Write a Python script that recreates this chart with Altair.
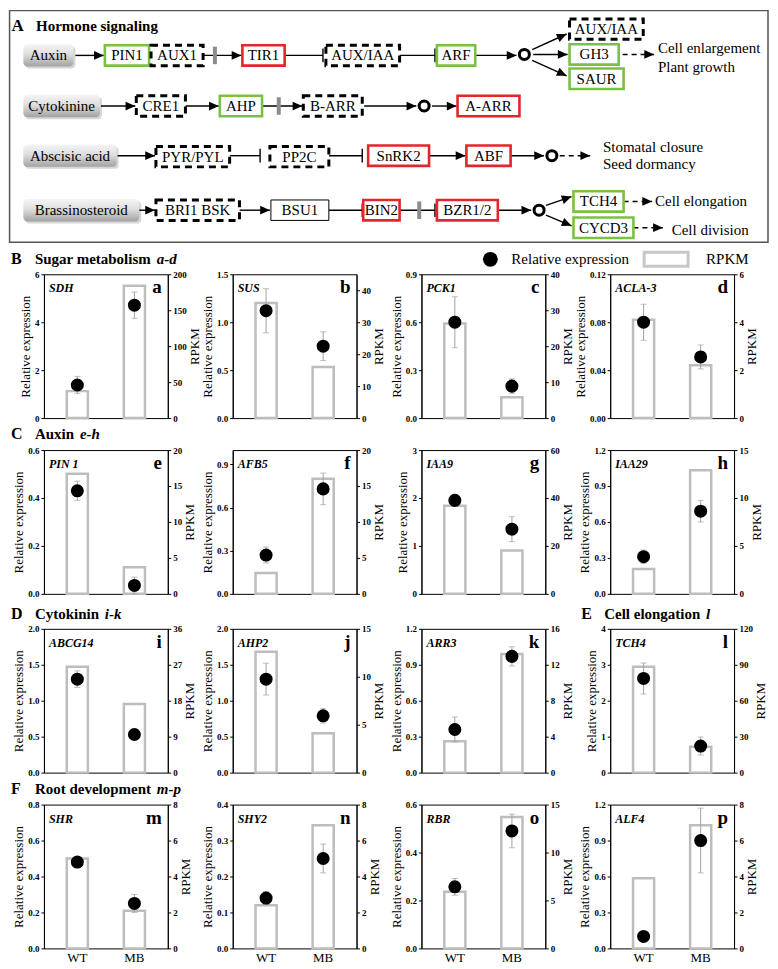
import math
import altair as alt
import pandas as pd

SERIF = "Liberation Serif"
GREEN = "#7ac143"
RED = "#e4262c"
ARROW = "M0,0L-1,-0.45L-1,0.45Z"

# ================= Panel A: signalling diagram (content) =================
title_a = ["A", "Hormone signaling"]
hormones = ["Auxin", "Cytokinine", "Abscisic acid", "Brassinosteroid"]
node_labels = ["PIN1", "AUX1", "TIR1", "AUX/IAA", "ARF", "AUX/IAA", "GH3", "SAUR",
               "CRE1", "AHP", "B-ARR", "A-ARR",
               "PYR/PYL", "PP2C", "SnRK2", "ABF",
               "BRI1 BSK", "BSU1", "BIN2", "BZR1/2", "TCH4", "CYCD3"]
node_kinds = ["green", "dashed", "red", "dashed", "green", "dashed", "green", "green",
              "dashed", "green", "dashed", "red",
              "dashed", "dashed", "red", "red",
              "dashed", "plain", "red", "red", "green", "green"]
outcome_labels = ["Cell enlargement", "Plant growth", "Stomatal closure",
                  "Seed dormancy", "Cell elongation", "Cell division"]

# layout of the schematic (reference figure grid)
frame_layout = [(3, 775, 2, 240)]
hormone_layout = [(17, 68, 48), (17, 95, 100), (17, 112, 151), (17, 135, 207)]
node_layout = [
    (100, 145, 48), (147, 200, 48), (240, 283, 48), (325, 400, 48), (438, 477, 48),
    (573, 648, 21), (573, 623, 47), (573, 628, 72),
    (132, 182, 100), (217, 260, 100), (302, 362, 100), (459, 522, 100),
    (152, 227, 152), (268, 328, 152), (368, 430, 151), (468, 513, 151),
    (152, 237, 207), (269, 328, 207), (363, 400, 207), (438, 500, 207),
    (577, 628, 198), (577, 638, 225),
]
edge_layout = [
    (70, 48, 99, 48, "arrow"), (200, 48, 239, 48, "arrow"), (283, 48, 322, 48, "inhibit"),
    (400, 48, 436, 48, "inhibit"), (477, 48, 519, 48, "arrow"),
    (535, 42, 570, 26, "arrow"), (536, 47, 571, 47, "arrow"), (535, 53, 570, 69, "arrow"),
    (627, 47, 659, 47, "dash"),
    (96, 100, 131, 100, "arrow"), (182, 100, 216, 100, "arrow"), (260, 100, 301, 100, "arrow"),
    (364, 100, 417, 100, "arrow"), (433, 100, 458, 100, "arrow"),
    (113, 151, 151, 151, "arrow"), (227, 151, 258, 151, "inhibit"), (328, 151, 362, 151, "inhibit"),
    (430, 151, 467, 151, "arrow"), (513, 151, 547, 151, "arrow"), (563, 151, 594, 151, "dash"),
    (135, 207, 151, 207, "arrow"), (237, 207, 268, 207, "arrow"), (328, 207, 362, 207, "inhibit"),
    (400, 207, 436, 207, "inhibit"), (500, 207, 534, 207, "arrow"),
    (549, 202, 575, 193, "arrow"), (549, 212, 575, 223, "arrow"),
    (628, 198, 657, 198, "dash"), (638, 225, 668, 225, "dash"),
]
circle_layout = [(527, 47), (425, 100), (555, 151), (542, 207)]
break_layout = [(212, 48), (277, 100), (420, 207)]
outcome_layout = [(663, 40), (663, 60), (607, 142), (607, 160), (660, 198), (677, 227)]
title_layout = [(5, 18), (30, 18)]

# ================= Panels a-p (data) =================
groups = ["WT", "MB"]
genes = ["SDH", "SUS", "PCK1", "ACLA-3", "PIN 1", "AFB5", "IAA9", "IAA29",
         "ABCG14", "AHP2", "ARR3", "TCH4", "SHR", "SHY2", "RBR", "ALF4"]
letters = list("abcdefghijklmnop")
rel_wt = [1.38, 1.12, 0.60, 0.080, 0.43, 0.27, 1.95, 0.31, 1.30, 1.30, 0.36, 2.62, 0.48, 0.14, 0.257, 0.10]
rel_mb = [4.71, 0.75, 0.20, 0.051, 0.035, 0.73, 1.35, 0.69, 0.53, 0.79, 0.97, 0.74, 0.25, 0.25, 0.49, 0.90]
err_wt = [0.36, 0.23, 0.16, 0.015, 0.04, 0.055, 0.12, 0.055, 0.115, 0.22, 0.105, 0.43, 0.03, 0.018, 0.035, 0.0]
err_mb = [0.55, 0.15, 0.045, 0.010, 0.035, 0.11, 0.26, 0.09, 0.03, 0.10, 0.08, 0.25, 0.05, 0.04, 0.07, 0.27]
rpkm_wt = [37.5, 36.0, 26.3, 4.1, 16.7, 2.9, 36.8, 2.6, 26.5, 12.6, 3.5, 88.3, 5.0, 2.4, 5.9, 3.9]
rpkm_mb = [184, 16.0, 5.8, 2.2, 3.7, 16.0, 18.1, 12.9, 17.2, 4.1, 13.2, 21.5, 2.1, 6.85, 13.7, 6.85]
rel_max = [6, 1.5, 0.9, 0.12, 0.6, 1.0, 3, 1.2, 2.0, 2.0, 1.2, 4, 0.8, 0.4, 0.6, 1.2]
rel_ticks = [[0, 2, 4, 6], [0, 0.5, 1.0, 1.5], [0, 0.3, 0.6, 0.9], [0, 0.04, 0.08, 0.12],
             [0, 0.2, 0.4, 0.6], [0, 0.3, 0.6, 0.9], [0, 1, 2, 3], [0, 0.3, 0.6, 0.9, 1.2],
             [0, 0.5, 1.0, 1.5, 2.0], [0, 0.5, 1.0, 1.5, 2.0], [0, 0.3, 0.6, 0.9, 1.2], [0, 1, 2, 3, 4],
             [0, 0.2, 0.4, 0.6, 0.8], [0, 0.1, 0.2, 0.3, 0.4], [0, 0.2, 0.4, 0.6], [0, 0.3, 0.6, 0.9, 1.2]]
rel_fmt = ["d", ".1f", ".1f", ".2f", ".1f", ".1f", "d", ".1f",
           ".1f", ".1f", ".1f", "d", ".1f", ".1f", ".1f", ".1f"]
rpkm_max = [200, 45, 40, 6, 20, 20, 60, 15, 36, 15, 16, 120, 8, 8, 15, 8]
rpkm_ticks = [[0, 50, 100, 150, 200], [0, 10, 20, 30, 40], [0, 10, 20, 30, 40], [0, 2, 4, 6],
              [0, 5, 10, 15, 20], [0, 5, 10, 15, 20], [0, 20, 40, 60], [0, 5, 10, 15],
              [0, 9, 18, 27, 36], [0, 5, 10, 15], [0, 4, 8, 12, 16], [0, 30, 60, 90, 120],
              [0, 2, 4, 6, 8], [0, 2, 4, 6, 8], [0, 5, 10, 15], [0, 2, 4, 6, 8]]

header_letters = ["B", "C", "D", "E", "F"]
header_titles = ["Sugar metabolism", "Auxin", "Cytokinin", "Cell elongation", "Root development"]
header_ranges = ["a-d", "e-h", "i-k", "l", "m-p"]
legend_labels = ["Relative expression", "RPKM"]

# ================= build diagram =================
DW, DH = 725, 232
xs = alt.Scale(domain=[38, 775], nice=False, zero=False)
ys = alt.Scale(domain=[2, 240], nice=False, zero=False, reverse=True)


def dX(f):
    return alt.X(f"{f}:Q", scale=xs, axis=None)


def dY(f):
    return alt.Y(f"{f}:Q", scale=ys, axis=None)


fdf = pd.DataFrame(frame_layout, columns=["x1", "x2", "y1", "y2"])

hdf = pd.DataFrame({"label": hormones,
                    "x1": [b[0] for b in hormone_layout],
                    "x2": [b[1] for b in hormone_layout],
                    "yc": [b[2] for b in hormone_layout]})
hdf["y1"] = hdf["yc"] - 11.5
hdf["y2"] = hdf["yc"] + 11.5
hdf["xc"] = (hdf["x1"] + hdf["x2"]) / 2

ndf = pd.DataFrame({"label": node_labels, "kind": node_kinds,
                    "x1": [b[0] for b in node_layout],
                    "x2": [b[1] for b in node_layout],
                    "yc": [b[2] for b in node_layout]})
ndf["y1"] = ndf["yc"] - 10.5
ndf["y2"] = ndf["yc"] + 10.5
ndf["xc"] = (ndf["x1"] + ndf["x2"]) / 2

edf = pd.DataFrame(edge_layout, columns=["x1", "y1", "x2", "y2", "kind"])
edf["angle"] = [math.degrees(math.atan2(r.y2 - r.y1, r.x2 - r.x1)) % 360 for r in edf.itertuples()]
edf["ya"] = edf["y2"] - 7
edf["yb"] = edf["y2"] + 7

cdf = pd.DataFrame(circle_layout, columns=["x", "y"])
bdf = pd.DataFrame(break_layout, columns=["x", "y"])
bdf["ya"] = bdf["y"] - 9
bdf["yb"] = bdf["y"] + 9
odf = pd.DataFrame({"label": outcome_labels,
                    "x": [p[0] for p in outcome_layout],
                    "y": [p[1] for p in outcome_layout]})
tdf = pd.DataFrame({"label": title_a,
                    "x": [p[0] for p in title_layout],
                    "y": [p[1] for p in title_layout],
                    "size": [17, 15]})

grad = {"gradient": "linear", "x1": 0, "y1": 0, "x2": 0, "y2": 1,
        "stops": [{"offset": 0, "color": "#f5f5f5"},
                  {"offset": 0.45, "color": "#dedede"},
                  {"offset": 1, "color": "#a2a2a2"}]}

layers = []
layers.append(alt.Chart(fdf).mark_rect(fillOpacity=0, stroke="#555555", strokeWidth=1.5)
              .encode(x=dX("x1"), x2=alt.X2("x2"), y=dY("y1"), y2=alt.Y2("y2")))
layers.append(alt.Chart(hdf).mark_rect(color="#8a8a8a", opacity=0.35, cornerRadius=4,
                                       xOffset=2, x2Offset=2, yOffset=2, y2Offset=2)
              .encode(x=dX("x1"), x2=alt.X2("x2"), y=dY("y1"), y2=alt.Y2("y2")))
layers.append(alt.Chart(hdf).mark_rect(fill=grad, cornerRadius=4)
              .encode(x=dX("x1"), x2=alt.X2("x2"), y=dY("y1"), y2=alt.Y2("y2")))
layers.append(alt.Chart(hdf).mark_text(font=SERIF, fontSize=15, color="black", baseline="middle")
              .encode(x=dX("xc"), y=dY("yc"), text="label:N"))

# connecting lines
layers.append(alt.Chart(edf).transform_filter(alt.datum.kind != "dash")
              .mark_rule(color="black", strokeWidth=1.4)
              .encode(x=dX("x1"), y=dY("y1"), x2=alt.X2("x2"), y2=alt.Y2("y2")))
layers.append(alt.Chart(edf).transform_filter(alt.datum.kind == "dash")
              .mark_rule(color="black", strokeWidth=1.4, strokeDash=[5, 4])
              .encode(x=dX("x1"), y=dY("y1"), x2=alt.X2("x2"), y2=alt.Y2("y2")))
layers.append(alt.Chart(edf).transform_filter(alt.datum.kind != "inhibit")
              .mark_point(shape=ARROW, size=380, filled=True, color="black", opacity=1, strokeWidth=0)
              .encode(x=dX("x2"), y=dY("y2"), angle=alt.Angle("angle:Q", scale=None)))
layers.append(alt.Chart(edf).transform_filter(alt.datum.kind == "inhibit")
              .mark_rule(color="black", strokeWidth=1.4)
              .encode(x=dX("x2"), y=dY("ya"), y2=alt.Y2("yb")))
layers.append(alt.Chart(bdf).mark_rule(color="#8c8c8c", strokeWidth=4)
              .encode(x=dX("x"), y=dY("ya"), y2=alt.Y2("yb")))

# gene boxes
styles = {
    "green": dict(stroke=GREEN, strokeWidth=2.6),
    "red": dict(stroke=RED, strokeWidth=2.6),
    "dashed": dict(stroke="black", strokeWidth=3, strokeDash=[7, 5]),
    "plain": dict(stroke="black", strokeWidth=1),
}
for kind, st in styles.items():
    layers.append(alt.Chart(ndf).transform_filter(alt.datum.kind == kind)
                  .mark_rect(fill="white", **st)
                  .encode(x=dX("x1"), x2=alt.X2("x2"), y=dY("y1"), y2=alt.Y2("y2")))
layers.append(alt.Chart(ndf).mark_text(font=SERIF, fontSize=15, color="black", baseline="middle")
              .encode(x=dX("xc"), y=dY("yc"), text="label:N"))

layers.append(alt.Chart(cdf).mark_point(shape="circle", size=100, filled=False, color="black",
                                        strokeWidth=3, opacity=1)
              .encode(x=dX("x"), y=dY("y")))
layers.append(alt.Chart(odf).mark_text(font=SERIF, fontSize=15, color="black", align="left",
                                       baseline="middle")
              .encode(x=dX("x"), y=dY("y"), text="label:N"))
layers.append(alt.Chart(tdf).mark_text(font=SERIF, fontWeight="bold", color="black", align="left",
                                       baseline="middle")
              .encode(x=dX("x"), y=dY("y"), text="label:N",
                      size=alt.Size("size:Q", scale=None, legend=None)))

diagram = alt.layer(*layers).properties(
    width=DW, height=DH, view=alt.ViewBackground(stroke="transparent"))

# ================= build panels =================
W, H = 124, 144


def make_panel(i, show_x):
    df = pd.DataFrame({
        "group": groups,
        "rel": [rel_wt[i], rel_mb[i]],
        "lo": [rel_wt[i] - err_wt[i], rel_mb[i] - err_mb[i]],
        "hi": [rel_wt[i] + err_wt[i], rel_mb[i] + err_mb[i]],
        "rpkm": [rpkm_wt[i], rpkm_mb[i]],
    })
    if show_x:
        xaxis = alt.Axis(title=None, labelAngle=0, ticks=False, domain=False, labelFontSize=13,
                         labelFontWeight="normal", labelPadding=3)
    else:
        xaxis = None
    x = alt.X("group:N", sort=groups, scale=alt.Scale(paddingInner=0.63, paddingOuter=0.4), axis=xaxis)
    rs = alt.Scale(domain=[0, rpkm_max[i]], nice=False, zero=True)
    ls = alt.Scale(domain=[0, rel_max[i]], nice=False, zero=True)
    bars = alt.Chart(df).mark_bar(fill="white", stroke="#bdbdbd", strokeWidth=2.5).encode(
        x=x,
        y=alt.Y("rpkm:Q", scale=rs,
                axis=alt.Axis(orient="right", title="RPKM", values=rpkm_ticks[i], format="d",
                              titleAngle=270, titleBaseline="top")))
    err = alt.Chart(df).mark_rule(color="#a3a3a3", strokeWidth=1).encode(
        x=x, y=alt.Y("lo:Q", scale=ls, axis=None), y2=alt.Y2("hi"))
    cap_lo = alt.Chart(df).mark_tick(color="#a3a3a3", thickness=1, size=6).encode(
        x=x, y=alt.Y("lo:Q", scale=ls, axis=None))
    cap_hi = alt.Chart(df).mark_tick(color="#a3a3a3", thickness=1, size=6).encode(
        x=x, y=alt.Y("hi:Q", scale=ls, axis=None))
    pts = alt.Chart(df).mark_circle(color="black", size=170, opacity=1).encode(
        x=x,
        y=alt.Y("rel:Q", scale=ls,
                axis=alt.Axis(orient="left", title="Relative expression", values=rel_ticks[i],
                              format=rel_fmt[i])))
    gene_t = alt.Chart(pd.DataFrame({"t": [genes[i]]})).mark_text(
        align="left", baseline="alphabetic", font=SERIF, fontSize=12, fontWeight="bold",
        fontStyle="italic", color="black").encode(text="t:N", x=alt.value(5), y=alt.value(18))
    letter_t = alt.Chart(pd.DataFrame({"t": [letters[i]]})).mark_text(
        align="right", baseline="alphabetic", font=SERIF, fontSize=19, fontWeight="bold",
        color="black").encode(text="t:N", x=alt.value(W - 6), y=alt.value(19))
    return alt.layer(bars, err, cap_lo, cap_hi, pts, gene_t, letter_t).resolve_scale(
        y="independent").properties(width=W, height=H,
                                    view=alt.ViewBackground(stroke="black", strokeWidth=1))


rows = []
for r in range(4):
    rows.append(alt.hconcat(*[make_panel(4 * r + k, r == 3) for k in range(4)],
                            spacing=65, bounds="flush"))


# ================= headers =================
def text_layer(t, x, y, fs, weight="bold", style="normal"):
    return alt.Chart(pd.DataFrame({"t": [t]})).mark_text(
        align="left", baseline="middle", font=SERIF, fontSize=fs, fontWeight=weight,
        fontStyle=style, color="black").encode(text="t:N", x=alt.value(x), y=alt.value(y))


def header_items(k, xl, xt, xr, y):
    return [text_layer(header_letters[k], xl, y, 16),
            text_layer(header_titles[k], xt, y, 15),
            text_layer(header_ranges[k], xr, y, 15, style="italic")]


leg_pt = alt.Chart(pd.DataFrame({"t": [legend_labels[0]]})).mark_circle(
    color="black", size=220, opacity=1).encode(x=alt.value(447), y=alt.value(14))
leg_rect = alt.Chart(pd.DataFrame({"t": [legend_labels[1]]})).mark_rect(
    fill="white", stroke="#c8c8c8", strokeWidth=3).encode(
    x=alt.value(601), x2=alt.value(645), y=alt.value(7), y2=alt.value(21))
leg_t1 = text_layer(legend_labels[0], 468, 14, 15, weight="normal")
leg_t2 = text_layer(legend_labels[1], 663, 14, 15, weight="normal")

hv = alt.ViewBackground(stroke="transparent")
headB = alt.layer(*header_items(0, -33, -9, 113, 14), leg_pt, leg_rect, leg_t1, leg_t2).properties(
    width=DW, height=23, view=hv)
headC = alt.layer(*header_items(1, -33, -9, 36, 9)).properties(width=DW, height=19, view=hv)
headD = alt.layer(*header_items(2, -33, -9, 61, 13.5),
                  *header_items(3, 538, 561, 663, 13.5)).properties(width=DW, height=22, view=hv)
headF = alt.layer(*header_items(4, -33, -9, 113, 9.5)).properties(width=DW, height=19, view=hv)

chart = alt.vconcat(diagram, headB, rows[0], headC, rows[1], headD, rows[2], headF, rows[3],
                    spacing=0).properties(padding=0).configure_view(
    stroke="transparent").configure_axis(
    labelFont=SERIF, labelFontSize=9, labelFontWeight="bold", labelColor="black",
    titleFont=SERIF, titleFontSize=13, titleFontWeight="normal", titleColor="black",
    domainColor="black", tickColor="black", tickSize=3, grid=False,
    labelPadding=2, titlePadding=2)

chart.save("out.html", embed_options={"renderer": "svg", "actions": False})
